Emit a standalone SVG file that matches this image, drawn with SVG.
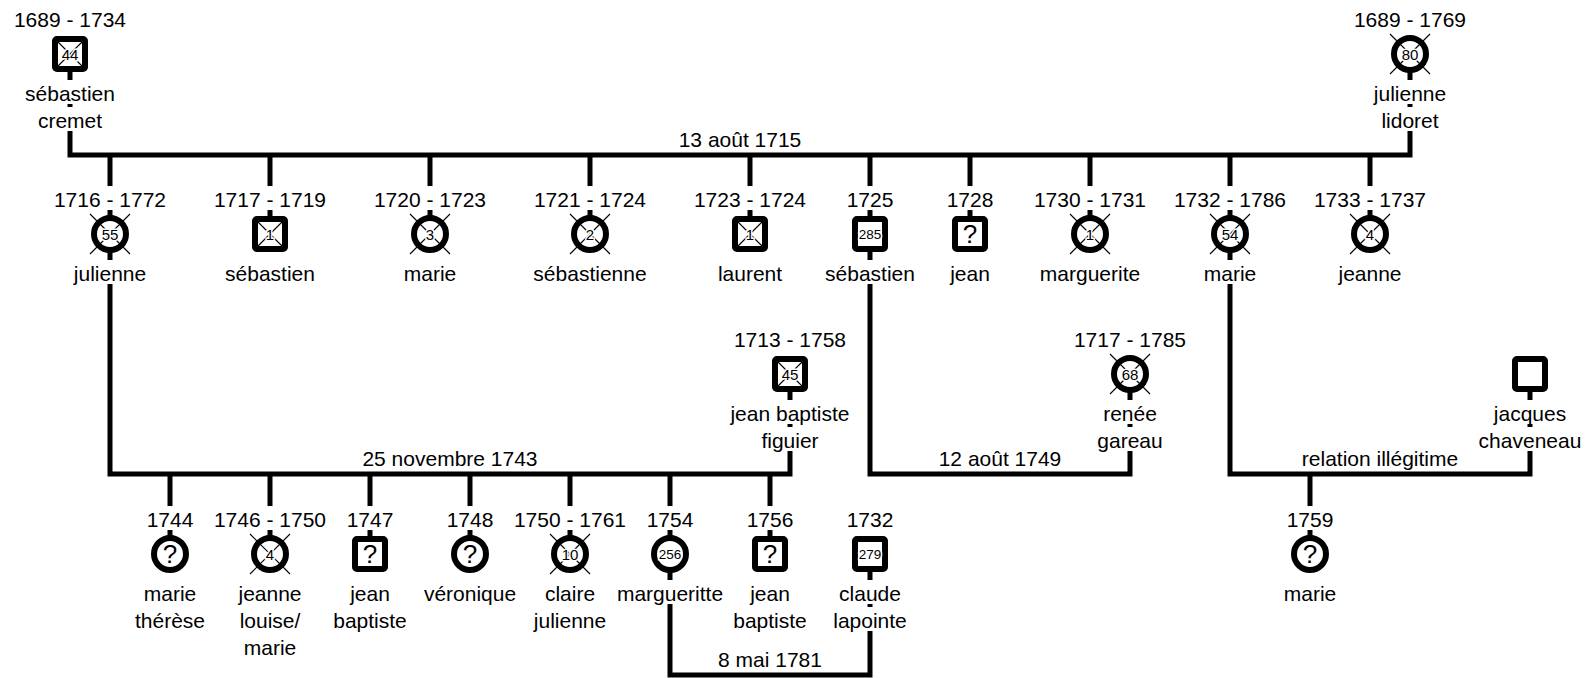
<svg xmlns="http://www.w3.org/2000/svg" width="1594" height="678" viewBox="0 0 1594 678">
<style>
.t{font-family:"Liberation Sans",Arial,sans-serif;font-size:21px;text-anchor:middle;fill:#000}
.n{font-size:15px;paint-order:stroke;stroke:#fff;stroke-width:3px}
.n3{font-size:13.5px}
.q{font-size:26px}
.sym{fill:#fff;stroke:#000;stroke-width:6}
.x{stroke:#000;stroke-width:1.1;fill:none}
.c{fill:none;stroke:#000;stroke-width:5;stroke-linejoin:miter}
</style>
<rect width="1594" height="678" fill="#fff"/>
<g id="connectors" class="c">
<path d="M70,131 V155 H1410 V131"/>
<path d="M70,72 V80 M70,104 V107 M1410,72 V80 M1410,104 V107"/>
<path d="M110,155 V186 M110,210 V216 M270,155 V186 M270,210 V216 M430,155 V186 M430,210 V216 M590,155 V186 M590,210 V216 M750,155 V186 M750,210 V216 M870,155 V186 M870,210 V216 M970,155 V186 M970,210 V216 M1090,155 V186 M1090,210 V216 M1230,155 V186 M1230,210 V216 M1370,155 V186 M1370,210 V216"/>
<path d="M110,284 V474 H790 V451"/>
<path d="M870,284 V474 H1130 V451"/>
<path d="M1230,284 V474 H1530 V451"/>
<path d="M110,252 V260 M870,252 V260 M1230,252 V260"/>
<path d="M790,392 V400 M790,424 V427 M1130,392 V400 M1130,424 V427 M1530,392 V400 M1530,424 V427"/>
<path d="M170,474 V506 M170,530 V536 M270,474 V506 M270,530 V536 M370,474 V506 M370,530 V536 M470,474 V506 M470,530 V536 M570,474 V506 M570,530 V536 M670,474 V506 M670,530 V536 M770,474 V506 M770,530 V536 M1310,474 V506 M1310,530 V536"/>
<path d="M670,604 V675 H870 V631"/>
<path d="M670,572 V580 M870,572 V580 M870,604 V607"/>
</g>
<g id="labels">
<text class="t" x="740" y="147">13 août 1715</text>
<text class="t" x="450" y="466">25 novembre 1743</text>
<text class="t" x="1000" y="466">12 août 1749</text>
<text class="t" x="1380" y="466">relation illégitime</text>
<text class="t" x="770" y="667">8 mai 1781</text>
</g>
<g id="sebastien-cremet">
<text class="t" x="70" y="27">1689 - 1734</text>
<rect class="sym" x="55" y="39" width="30" height="30" rx="2"/>
<path class="x" d="M58,42 L82,66 M82,42 L58,66"/>
<text class="t n" x="70" y="59.5">44</text>
<text class="t" x="70" y="101">sébastien</text>
<text class="t" x="70" y="128">cremet</text>
</g>
<g id="julienne-lidoret">
<text class="t" x="1410" y="27">1689 - 1769</text>
<circle class="sym" cx="1410" cy="54" r="16"/>
<path class="x" d="M1390,34 L1430,74 M1430,34 L1390,74"/>
<text class="t n" x="1410" y="59.5">80</text>
<text class="t" x="1410" y="101">julienne</text>
<text class="t" x="1410" y="128">lidoret</text>
</g>
<g id="julienne-1716">
<text class="t" x="110" y="207">1716 - 1772</text>
<circle class="sym" cx="110" cy="234" r="16"/>
<path class="x" d="M90,214 L130,254 M130,214 L90,254"/>
<text class="t n" x="110" y="239.5">55</text>
<text class="t" x="110" y="281">julienne</text>
</g>
<g id="sebastien-1717">
<text class="t" x="270" y="207">1717 - 1719</text>
<rect class="sym" x="255" y="219" width="30" height="30" rx="2"/>
<path class="x" d="M258,222 L282,246 M282,222 L258,246"/>
<text class="t n" x="270" y="239.5">1</text>
<text class="t" x="270" y="281">sébastien</text>
</g>
<g id="marie-1720">
<text class="t" x="430" y="207">1720 - 1723</text>
<circle class="sym" cx="430" cy="234" r="16"/>
<path class="x" d="M410,214 L450,254 M450,214 L410,254"/>
<text class="t n" x="430" y="239.5">3</text>
<text class="t" x="430" y="281">marie</text>
</g>
<g id="sebastienne-1721">
<text class="t" x="590" y="207">1721 - 1724</text>
<circle class="sym" cx="590" cy="234" r="16"/>
<path class="x" d="M570,214 L610,254 M610,214 L570,254"/>
<text class="t n" x="590" y="239.5">2</text>
<text class="t" x="590" y="281">sébastienne</text>
</g>
<g id="laurent-1723">
<text class="t" x="750" y="207">1723 - 1724</text>
<rect class="sym" x="735" y="219" width="30" height="30" rx="2"/>
<path class="x" d="M738,222 L762,246 M762,222 L738,246"/>
<text class="t n" x="750" y="239.5">1</text>
<text class="t" x="750" y="281">laurent</text>
</g>
<g id="sebastien-1725">
<text class="t" x="870" y="207">1725</text>
<rect class="sym" x="855" y="219" width="30" height="30" rx="2"/>
<text class="t n n3" x="870" y="239">285</text>
<text class="t" x="870" y="281">sébastien</text>
</g>
<g id="jean-1728">
<text class="t" x="970" y="207">1728</text>
<rect class="sym" x="955" y="219" width="30" height="30" rx="2"/>
<text class="t q" x="970" y="243">?</text>
<text class="t" x="970" y="281">jean</text>
</g>
<g id="marguerite-1730">
<text class="t" x="1090" y="207">1730 - 1731</text>
<circle class="sym" cx="1090" cy="234" r="16"/>
<path class="x" d="M1070,214 L1110,254 M1110,214 L1070,254"/>
<text class="t n" x="1090" y="239.5">1</text>
<text class="t" x="1090" y="281">marguerite</text>
</g>
<g id="marie-1732">
<text class="t" x="1230" y="207">1732 - 1786</text>
<circle class="sym" cx="1230" cy="234" r="16"/>
<path class="x" d="M1210,214 L1250,254 M1250,214 L1210,254"/>
<text class="t n" x="1230" y="239.5">54</text>
<text class="t" x="1230" y="281">marie</text>
</g>
<g id="jeanne-1733">
<text class="t" x="1370" y="207">1733 - 1737</text>
<circle class="sym" cx="1370" cy="234" r="16"/>
<path class="x" d="M1350,214 L1390,254 M1390,214 L1350,254"/>
<text class="t n" x="1370" y="239.5">4</text>
<text class="t" x="1370" y="281">jeanne</text>
</g>
<g id="jean-baptiste-figuier">
<text class="t" x="790" y="347">1713 - 1758</text>
<rect class="sym" x="775" y="359" width="30" height="30" rx="2"/>
<path class="x" d="M778,362 L802,386 M802,362 L778,386"/>
<text class="t n" x="790" y="379.5">45</text>
<text class="t" x="790" y="421">jean baptiste</text>
<text class="t" x="790" y="448">figuier</text>
</g>
<g id="renee-gareau">
<text class="t" x="1130" y="347">1717 - 1785</text>
<circle class="sym" cx="1130" cy="374" r="16"/>
<path class="x" d="M1110,354 L1150,394 M1150,354 L1110,394"/>
<text class="t n" x="1130" y="379.5">68</text>
<text class="t" x="1130" y="421">renée</text>
<text class="t" x="1130" y="448">gareau</text>
</g>
<g id="jacques-chaveneau">
<rect class="sym" x="1515" y="359" width="30" height="30" rx="2"/>
<text class="t" x="1530" y="421">jacques</text>
<text class="t" x="1530" y="448">chaveneau</text>
</g>
<g id="marie-therese-1744">
<text class="t" x="170" y="527">1744</text>
<circle class="sym" cx="170" cy="554" r="16"/>
<text class="t q" x="170" y="563">?</text>
<text class="t" x="170" y="601">marie</text>
<text class="t" x="170" y="628">thérèse</text>
</g>
<g id="jeanne-louise-marie-1746">
<text class="t" x="270" y="527">1746 - 1750</text>
<circle class="sym" cx="270" cy="554" r="16"/>
<path class="x" d="M250,534 L290,574 M290,534 L250,574"/>
<text class="t n" x="270" y="559.5">4</text>
<text class="t" x="270" y="601">jeanne</text>
<text class="t" x="270" y="628">louise/</text>
<text class="t" x="270" y="655">marie</text>
</g>
<g id="jean-baptiste-1747">
<text class="t" x="370" y="527">1747</text>
<rect class="sym" x="355" y="539" width="30" height="30" rx="2"/>
<text class="t q" x="370" y="563">?</text>
<text class="t" x="370" y="601">jean</text>
<text class="t" x="370" y="628">baptiste</text>
</g>
<g id="veronique-1748">
<text class="t" x="470" y="527">1748</text>
<circle class="sym" cx="470" cy="554" r="16"/>
<text class="t q" x="470" y="563">?</text>
<text class="t" x="470" y="601">véronique</text>
</g>
<g id="claire-julienne-1750">
<text class="t" x="570" y="527">1750 - 1761</text>
<circle class="sym" cx="570" cy="554" r="16"/>
<path class="x" d="M550,534 L590,574 M590,534 L550,574"/>
<text class="t n" x="570" y="559.5">10</text>
<text class="t" x="570" y="601">claire</text>
<text class="t" x="570" y="628">julienne</text>
</g>
<g id="margueritte-1754">
<text class="t" x="670" y="527">1754</text>
<circle class="sym" cx="670" cy="554" r="16"/>
<text class="t n n3" x="670" y="559">256</text>
<text class="t" x="670" y="601">margueritte</text>
</g>
<g id="jean-baptiste-1756">
<text class="t" x="770" y="527">1756</text>
<rect class="sym" x="755" y="539" width="30" height="30" rx="2"/>
<text class="t q" x="770" y="563">?</text>
<text class="t" x="770" y="601">jean</text>
<text class="t" x="770" y="628">baptiste</text>
</g>
<g id="claude-lapointe">
<text class="t" x="870" y="527">1732</text>
<rect class="sym" x="855" y="539" width="30" height="30" rx="2"/>
<text class="t n n3" x="870" y="559">279</text>
<text class="t" x="870" y="601">claude</text>
<text class="t" x="870" y="628">lapointe</text>
</g>
<g id="marie-1759">
<text class="t" x="1310" y="527">1759</text>
<circle class="sym" cx="1310" cy="554" r="16"/>
<text class="t q" x="1310" y="563">?</text>
<text class="t" x="1310" y="601">marie</text>
</g>
</svg>
